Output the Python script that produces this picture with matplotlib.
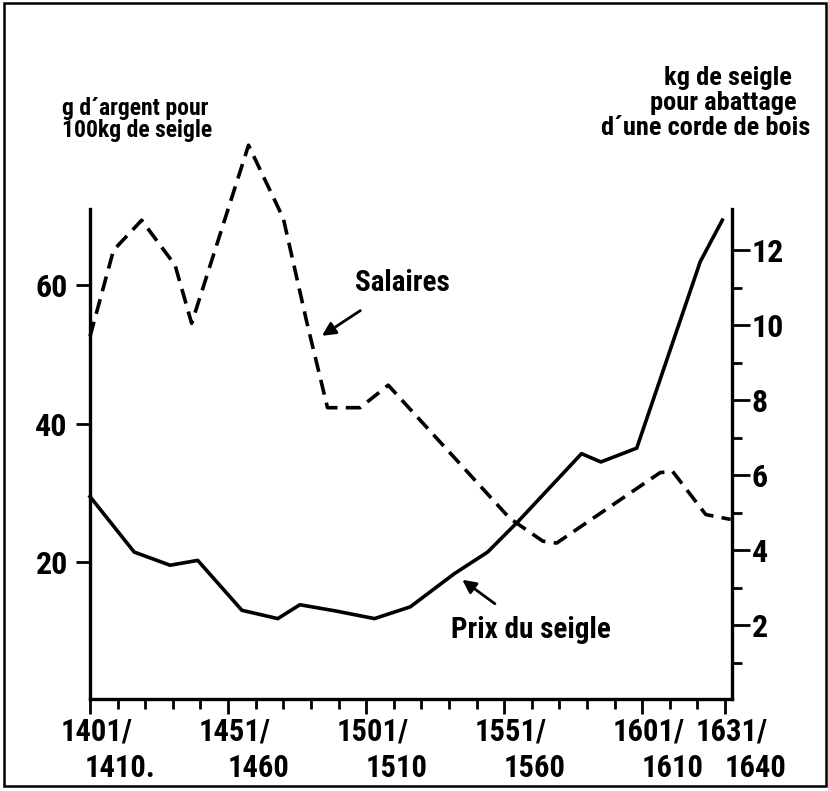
import matplotlib
matplotlib.use("Agg")
import matplotlib.pyplot as plt
from matplotlib import font_manager
from matplotlib.patches import Rectangle

# pick a narrow font if one is installed
names = {f.name for f in font_manager.fontManager.ttflist}
for fam in ["Liberation Sans Narrow", "DejaVu Sans Condensed", "Roboto Condensed", "DejaVu Sans"]:
    if fam in names:
        font = fam
        break
plt.rcParams["font.family"] = font
plt.rcParams["font.weight"] = "bold"

# Prix du seigle (g d'argent pour 100 kg), left axis
prix_years = [1401, 1417, 1430, 1440, 1456, 1469, 1477, 1490, 1504, 1517,
              1533, 1545, 1556, 1579, 1586, 1599, 1622, 1630]
prix = [29.5, 21.5, 19.6, 20.3, 13.1, 11.9, 13.9, 13.0, 11.9, 13.6,
        18.4, 21.5, 25.9, 35.7, 34.5, 36.5, 63.4, 69.4]

# Salaires (kg de seigle pour une corde de bois), right axis
sal_years = [1401, 1409.5, 1419.7, 1431.8, 1437.8, 1458.4, 1471, 1479.6, 1487,
             1498.8, 1509, 1553, 1565, 1570, 1607.5, 1612, 1624, 1633]
salaires = [9.7, 12.0, 12.8, 11.6, 10.05, 14.8, 12.85, 10.05, 7.8,
            7.8, 8.4, 4.85, 4.24, 4.19, 6.07, 6.1, 4.95, 4.82]

decades = list(range(1401, 1641, 10))
labelled = [1401, 1451, 1501, 1551, 1601, 1631]
label_top = ["1401/", "1451/", "1501/", "1551/", "1601/", "1631/"]
label_bot = ["1410.", "1460", "1510", "1560", "1610", "1640"]

left_ticks = [20, 40, 60]
right_major = [2, 4, 6, 8, 10, 12]
right_minor = [1, 3, 5, 7, 9, 11]

right_title = ["kg de seigle", "pour abattage", "d\u00b4une corde de bois"]

fig = plt.figure(figsize=(8.29, 7.91), dpi=100)
ax = fig.add_axes([0.1086, 0.1163, 0.7744, 0.6195])
ax2 = ax.twinx()

ax.plot(prix_years, prix, color="black", lw=2.6, solid_joinstyle="round", clip_on=False)
ln, = ax2.plot(sal_years, salaires, color="black", lw=2.6, clip_on=False)
ln.set_dashes((4.2, 2.3))

ax.set_xlim(1401, 1633.5)
ax.set_ylim(0.3, 71)
ax2.set_ylim(0.03, 13.1)

for a in (ax, ax2):
    a.spines["top"].set_visible(False)
ax.spines["right"].set_visible(False)
ax2.spines["left"].set_visible(False)
ax2.spines["bottom"].set_visible(False)
for s in ("left", "bottom"):
    ax.spines[s].set_linewidth(2.4)
ax2.spines["right"].set_linewidth(2.4)

ax.set_xticks(labelled)
ax.set_xticks([d for d in decades if d not in labelled], minor=True)
ax.set_xticklabels([])
ax.tick_params(axis="x", which="major", length=11, width=2, direction="out")
ax.tick_params(axis="x", which="minor", length=7, width=2, direction="out")
for x, t, b in zip(labelled, label_top, label_bot):
    ax.text(x + 2.5, -0.066, t, transform=ax.get_xaxis_transform(),
            ha="center", va="center", fontsize=22)
    ax.text(x + 11, -0.14, b, transform=ax.get_xaxis_transform(),
            ha="center", va="center", fontsize=22)

ax.set_yticks(left_ticks)
ax.set_yticklabels([str(v) for v in left_ticks], fontsize=23)
ax.tick_params(axis="y", length=10, width=2, pad=6)

ax2.set_yticks(right_major)
ax2.set_yticks(right_minor, minor=True)
ax2.set_yticklabels([str(v) for v in right_major], fontsize=23)
ax2.tick_params(axis="y", which="major", length=13, width=2, pad=1)
ax2.tick_params(axis="y", which="minor", length=7, width=2)

fig.text(0.075, 0.849, "g d\u00b4argent pour\n100kg de seigle", ha="left", va="center",
         fontsize=17, linespacing=0.95)
for line, xc, yc in zip(right_title, [728, 723, 706], [78, 103, 128]):
    fig.text(xc / 829, 1 - yc / 791, line, ha="center", va="center", fontsize=19)

ax.annotate("Salaires", xy=(1485, 52.7), xytext=(1514, 60.3), ha="center", va="center",
            fontsize=21, arrowprops=dict(arrowstyle="-|>", color="black", lw=2,
                                         mutation_scale=20, shrinkA=14, shrinkB=0))
ax.annotate("Prix du seigle", xy=(1535.8, 17.5), xytext=(1560.8, 10.2), ha="center", va="center",
            fontsize=21, arrowprops=dict(arrowstyle="-|>", color="black", lw=2,
                                         mutation_scale=20, shrinkA=12, shrinkB=0))

fig.patches.append(Rectangle((0.005, 0.006), 0.9915, 0.99, transform=fig.transFigure,
                             fill=False, lw=1.8, color="black"))

fig.savefig("out.png", dpi=100)
